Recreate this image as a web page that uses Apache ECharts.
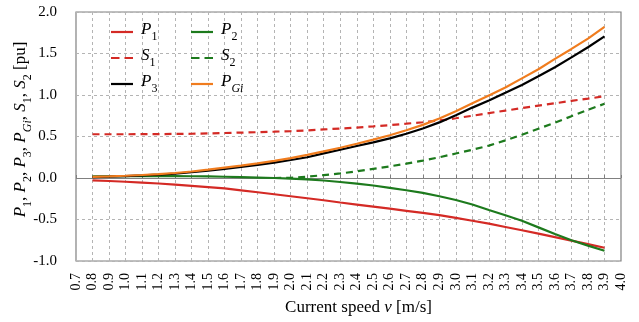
<!DOCTYPE html>
<html>
<head>
<meta charset="utf-8">
<script src="https://cdn.jsdelivr.net/npm/echarts@6/dist/echarts.min.js"></script>
<style>
  html, body { margin: 0; padding: 0; background: #fff; }
  #chart { width: 639px; height: 322px; }
</style>
</head>
<body>
<div id="chart"></div>
<script>
  // current speed v [m/s]
  const speeds = [0.8, 0.9, 1.0, 1.1, 1.2, 1.3, 1.4, 1.5, 1.6, 1.7, 1.8, 1.9, 2.0, 2.1, 2.2, 2.3,
                  2.4, 2.5, 2.6, 2.7, 2.8, 2.9, 3.0, 3.1, 3.2, 3.3, 3.4, 3.5, 3.6, 3.7, 3.8, 3.9]

  const p1 = [-0.028, -0.036, -0.045, -0.055, -0.066, -0.08, -0.094, -0.11, -0.126, -0.148, -0.172, -0.196,
              -0.22, -0.244, -0.268, -0.295, -0.32, -0.345, -0.37, -0.395, -0.42, -0.447, -0.48, -0.515,
              -0.55, -0.59, -0.63, -0.67, -0.713, -0.755, -0.797, -0.84]
  const p2 = [0.02, 0.021, 0.022, 0.023, 0.023, 0.022, 0.021, 0.019, 0.015, 0.01, 0.005, 0.0,
              -0.007, -0.016, -0.03, -0.048, -0.068, -0.09, -0.118, -0.148, -0.18, -0.22, -0.265, -0.32,
              -0.385, -0.448, -0.515, -0.595, -0.675, -0.75, -0.815, -0.877]
  const s1 = [0.527, 0.527, 0.527, 0.528, 0.529, 0.531, 0.533, 0.537, 0.542, 0.547, 0.552, 0.558,
              0.565, 0.574, 0.585, 0.596, 0.608, 0.622, 0.637, 0.654, 0.672, 0.692, 0.72, 0.75,
              0.782, 0.812, 0.842, 0.872, 0.9, 0.93, 0.956, 0.985]
  const s2 = [null, null, null, null, null, null, null, null, null, null, null, 0.0,
              0.003, 0.015, 0.035, 0.055, 0.08, 0.11, 0.14, 0.173, 0.21, 0.25, 0.295, 0.34,
              0.39, 0.453, 0.52, 0.594, 0.666, 0.745, 0.822, 0.894]
  const p3 = [0.01, 0.016, 0.023, 0.031, 0.041, 0.053, 0.069, 0.088, 0.11, 0.133, 0.158, 0.186,
              0.217, 0.25, 0.296, 0.34, 0.385, 0.43, 0.477, 0.533, 0.597, 0.67, 0.757, 0.848,
              0.934, 1.026, 1.12, 1.226, 1.334, 1.454, 1.575, 1.707]
  const pGi = [0.013, 0.019, 0.027, 0.036, 0.047, 0.06, 0.078, 0.1, 0.125, 0.15, 0.177, 0.207,
               0.24, 0.278, 0.32, 0.365, 0.412, 0.462, 0.515, 0.575, 0.64, 0.716, 0.805, 0.9,
               0.995, 1.09, 1.2, 1.31, 1.435, 1.555, 1.68, 1.82]

  const RED = '#d42a25'
  const GREEN = '#1d7a1d'
  const BLACK = '#000000'
  const ORANGE = '#f07c1e'
  const SERIF = '"Liberation Serif", "Times New Roman", serif'
  const DASH = [7, 5]

  // legend icons: plain bar and two-dash bar (22 x 2.2)
  const SOLID_ICON = 'path://M0,0 L22,0 L22,2.2 L0,2.2 Z'
  const DASH_ICON = 'path://M0,0 L8.5,0 L8.5,2.2 L0,2.2 Z M13.5,0 L22,0 L22,2.2 L13.5,2.2 Z'

  function pairs(values) {
    return speeds.map((v, i) => [v, values[i]])
  }

  // italic P and subscripts
  const subText = {
    i: { fontFamily: SERIF, fontSize: 17, fontStyle: 'italic', color: '#000', padding: [0, 0, 5, 0], verticalAlign: 'bottom' },
    n: { fontFamily: SERIF, fontSize: 17, color: '#000', padding: [0, 0, 5, 0], verticalAlign: 'bottom' },
    s: { fontFamily: SERIF, fontSize: 12, color: '#000', verticalAlign: 'bottom' },
    si: { fontFamily: SERIF, fontSize: 12, fontStyle: 'italic', color: '#000', verticalAlign: 'bottom' }
  }
  const legendLabels = {
    P1: '{i|P}{s|1}', P2: '{i|P}{s|2}', S1: '{i|S}{s|1}', S2: '{i|S}{s|2}',
    P3: '{i|P}{s|3}', PGi: '{i|P}{si|Gi}'
  }
  const legendLook = {
    P1: [RED, SOLID_ICON], P2: [GREEN, SOLID_ICON], S1: [RED, DASH_ICON], S2: [GREEN, DASH_ICON],
    P3: [BLACK, SOLID_ICON], PGi: [ORANGE, SOLID_ICON]
  }

  function line(name, values, color, dashed) {
    return {
      name: name,
      type: 'line',
      data: pairs(values),
      symbol: 'none',
      smooth: false,
      connectNulls: false,
      lineStyle: { color: color, width: 2.2, type: dashed ? DASH : 'solid' },
      itemStyle: { color: color },
      z: 3
    }
  }

  function legendItems(names) {
    return names.map((n) => ({
      name: n,
      icon: legendLook[n][1],
      itemStyle: { color: legendLook[n][0], borderWidth: 0 }
    }))
  }

  const legendCommon = {
    orient: 'vertical',
    top: 16,
    itemWidth: 22,
    itemHeight: 2.2,
    itemGap: 4,
    formatter: (name) => legendLabels[name],
    textStyle: { rich: subText, padding: [0, 0, 0, 3] }
  }

  const chart = echarts.init(document.getElementById('chart'), null, { renderer: 'canvas' })

  const series = [
    line('P1', p1, RED, false),
    line('P2', p2, GREEN, false),
    line('S1', s1, RED, true),
    line('S2', s2, GREEN, true),
    line('P3', p3, BLACK, false),
    line('PGi', pGi, ORANGE, false)
  ]
  // zero line
  series[0].markLine = {
    silent: true,
    symbol: 'none',
    label: { show: false },
    lineStyle: { color: '#808080', width: 1.2, type: 'solid' },
    data: [{ yAxis: 0 }],
    z: 1
  }

  chart.setOption({
    animation: false,
    backgroundColor: '#fff',
    grid: {
      left: 76, right: 18, top: 12, bottom: 61,
      outerBoundsMode: 'none',
      containLabel: false,
      show: true, borderColor: '#808080', borderWidth: 1.2
    },
    legend: [
      Object.assign({}, legendCommon, { left: 106, data: legendItems(['P1', 'S1', 'P3']) }),
      Object.assign({}, legendCommon, { left: 186, data: legendItems(['P2', 'S2', 'PGi']) })
    ],
    xAxis: {
      type: 'value',
      min: 0.7,
      max: 4.0,
      interval: 0.1,
      name: '{n|Current speed }{v|v}{n| [m/s]}',
      nameLocation: 'middle',
      nameGap: 38,
      nameMoveOverlap: false,
      nameTextStyle: {
        rich: {
          n: { fontFamily: SERIF, fontSize: 17, color: '#000' },
          v: { fontFamily: SERIF, fontSize: 17, fontStyle: 'italic', color: '#000' }
        },
        padding: [0, 0, 0, 20]
      },
      axisLine: { show: false },
      axisTick: { show: true, inside: true, length: 3, lineStyle: { color: '#808080' } },
      axisLabel: {
        rotate: 90,
        margin: 12,
        fontFamily: SERIF,
        fontSize: 14,
        color: '#000',
        showMinLabel: true,
        showMaxLabel: true,
        formatter: (v) => v.toFixed(1)
      },
      splitLine: { show: true, lineStyle: { color: '#b4b4b4', width: 1, type: [3, 3] } }
    },
    yAxis: {
      type: 'value',
      min: -1.0,
      max: 2.0,
      interval: 0.5,
      name: '{i|P}{s|1}{n|, }{i|P}{s|2}{n|, }{i|P}{s|3}{n|, }{i|P}{si|Gi}{n|, }{i|S}{s|1}{n|, }{i|S}{s|2}{n| [pu]}',
      nameLocation: 'middle',
      nameGap: 42,
      nameMoveOverlap: false,
      nameTextStyle: { rich: subText, padding: [0, 0, 0, 14] },
      axisLine: { show: false },
      axisTick: { show: false },
      axisLabel: {
        margin: 19,
        fontFamily: SERIF,
        fontSize: 15,
        color: '#000',
        formatter: (v) => v.toFixed(1)
      },
      splitLine: { show: true, lineStyle: { color: '#b4b4b4', width: 1, type: [3, 3] } }
    },
    series: series
  })
</script>
</body>
</html>
